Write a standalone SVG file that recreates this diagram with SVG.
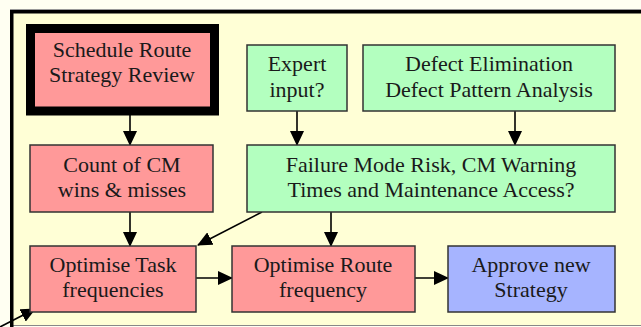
<svg xmlns="http://www.w3.org/2000/svg" width="641" height="327" viewBox="0 0 641 327">
<style>
text{font-family:"Liberation Serif","Times New Roman",serif;font-size:22px;fill:#1a1a1a;text-anchor:middle}
.pink{fill:#ff9999;stroke:#333;stroke-width:1.5}
.green{fill:#b3ffbf;stroke:#333;stroke-width:1.5}
.blue{fill:#a6b4ff;stroke:#333;stroke-width:1.5}
.c{stroke:#000;stroke-width:1.6;fill:none;marker-end:url(#ah)}
</style>
<defs>
<marker id="ah" markerUnits="userSpaceOnUse" markerWidth="15" markerHeight="14" refX="14" refY="7" orient="auto" viewBox="0 0 15 14">
<path d="M0,0 L15,7 L0,14 z" fill="#000"/>
</marker>
</defs>
<rect x="0" y="0" width="641" height="327" fill="#fffff2"/>
<rect x="10" y="10" width="640" height="316" fill="#ffffd6"/>
<line x1="10" y1="9.5" x2="641" y2="9.5" stroke="#999" stroke-width="1"/>
<line x1="10" y1="325.5" x2="641" y2="325.5" stroke="#888" stroke-width="1"/>
<rect x="10" y="10" width="631" height="3.5" fill="#000"/>
<rect x="10" y="10" width="3.5" height="317" fill="#000"/>

<g id="connectors">
<line class="c" x1="130" y1="115" x2="130" y2="145"/>
<line class="c" x1="297" y1="111" x2="297" y2="145"/>
<line class="c" x1="515" y1="111" x2="515" y2="145"/>
<line class="c" x1="130" y1="212" x2="130" y2="246"/>
<line class="c" x1="331" y1="212" x2="331" y2="246"/>
<line class="c" x1="262" y1="212" x2="198" y2="245"/>
<line class="c" x1="196" y1="278" x2="232" y2="278"/>
<line class="c" x1="415" y1="278" x2="448" y2="278"/>
<line class="c" x1="0" y1="327" x2="35" y2="309"/>
</g>

<g id="schedule">
<rect x="30.5" y="28.5" width="184" height="82.5" fill="#ff9999" stroke="#000" stroke-width="9"/>
<text x="122" y="57">Schedule Route</text>
<text x="122" y="82">Strategy Review</text>
</g>
<g id="expert">
<rect class="green" x="247" y="45" width="100" height="66"/>
<text x="297" y="71">Expert</text>
<text x="297" y="97">input?</text>
</g>
<g id="defect">
<rect class="green" x="363" y="45" width="252" height="66"/>
<text x="489" y="70.5">Defect Elimination</text>
<text x="489" y="97">Defect Pattern Analysis</text>
</g>
<g id="count">
<rect class="pink" x="30" y="145" width="183" height="67"/>
<text x="122" y="171.5">Count of CM</text>
<text x="122" y="197">wins &amp; misses</text>
</g>
<g id="failure">
<rect class="green" x="247" y="145" width="368" height="67"/>
<text x="431" y="171.5">Failure Mode Risk, CM Warning</text>
<text x="431" y="197">Times and Maintenance Access?</text>
</g>
<g id="optTask">
<rect class="pink" x="30" y="246" width="166" height="66"/>
<text x="113" y="271.5">Optimise Task</text>
<text x="113" y="296.5">frequencies</text>
</g>
<g id="optRoute">
<rect class="pink" x="232" y="246" width="183" height="66"/>
<text x="323" y="271.5">Optimise Route</text>
<text x="323" y="296.5">frequency</text>
</g>
<g id="approve">
<rect class="blue" x="448" y="246" width="167" height="66"/>
<text x="531" y="271.5">Approve new</text>
<text x="531" y="296.5">Strategy</text>
</g>
</svg>
